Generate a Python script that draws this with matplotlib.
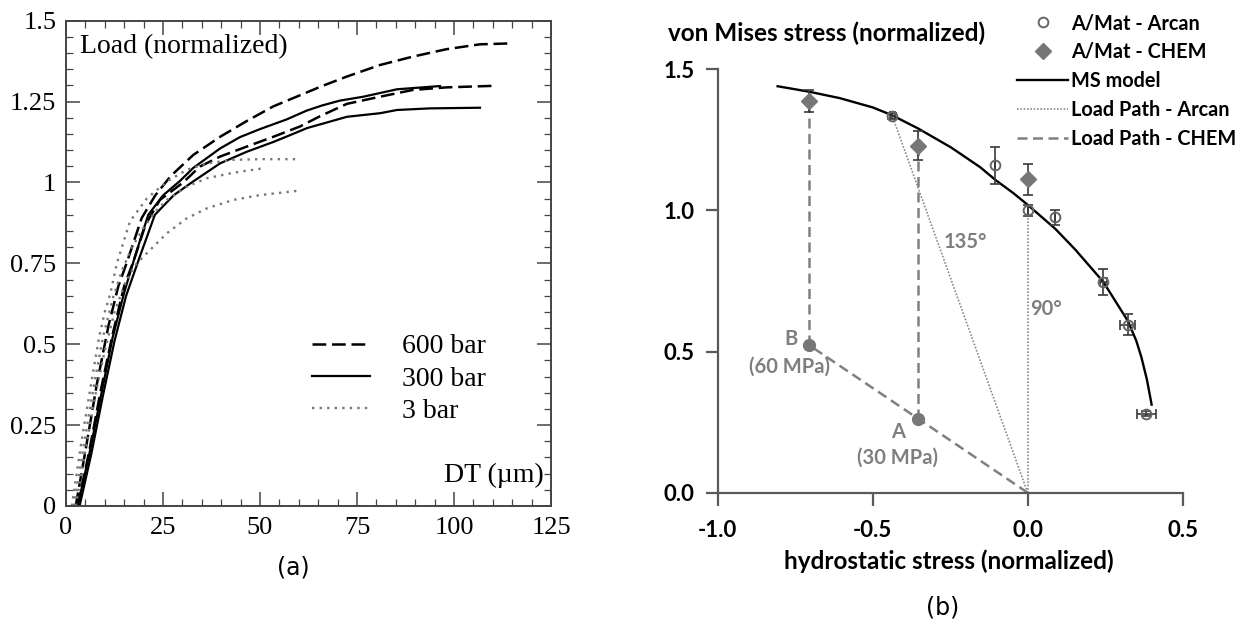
import matplotlib
matplotlib.use('Agg')
import matplotlib.pyplot as plt
from matplotlib.ticker import MultipleLocator, FuncFormatter

# ---------------- Panel (a) data ----------------
dt_600a = [2.5, 5, 8, 11, 13.5, 15.6, 19.5, 23, 27, 32.8, 39.7, 46.6, 53.4, 60, 66, 72.3, 80.9, 89.4, 98.1, 106.7, 115]
ld_600a = [0, 0.17, 0.38, 0.56, 0.68, 0.75, 0.89, 0.96, 1.02, 1.085, 1.141, 1.19, 1.235, 1.268, 1.298, 1.327, 1.363, 1.389, 1.412, 1.427, 1.43]
dt_600b = [3, 6, 9, 12, 15, 17.5, 20.5, 24.2, 30.2, 34.5, 39.7, 46.6, 53.4, 60.3, 65.5, 72.4, 80.9, 89.4, 98.2, 111]
ld_600b = [0, 0.17, 0.36, 0.53, 0.68, 0.76, 0.87, 0.946, 1.0, 1.049, 1.080, 1.111, 1.141, 1.173, 1.205, 1.243, 1.265, 1.286, 1.294, 1.299]
dt_300a = [3, 6, 9, 12, 15, 18, 21.2, 25, 29.4, 32.8, 39.7, 44.8, 50, 56.9, 62, 66, 70.6, 76.6, 85.3, 96.4]
ld_300a = [0, 0.16, 0.34, 0.52, 0.66, 0.78, 0.90, 0.96, 1.005, 1.045, 1.105, 1.14, 1.165, 1.195, 1.222, 1.238, 1.253, 1.265, 1.288, 1.298]
dt_300b = [3.5, 6.5, 9.5, 12.5, 15.5, 19, 22.9, 27.7, 32.4, 39.7, 46.6, 53.4, 58.5, 62.1, 68, 72.4, 80.9, 85.3, 93.8, 106.7]
ld_300b = [0, 0.16, 0.34, 0.51, 0.65, 0.77, 0.90, 0.96, 1.0, 1.059, 1.095, 1.125, 1.15, 1.168, 1.188, 1.203, 1.214, 1.224, 1.229, 1.231]
dt_3a = [1.5, 4, 6.5, 8.5, 10, 11.5, 13.1, 16.5, 20.8, 26, 31.1, 36.3, 43.1, 50, 59.9]
ld_3a = [0, 0.2, 0.38, 0.52, 0.6, 0.66, 0.75, 0.88, 0.95, 1.003, 1.039, 1.059, 1.070, 1.072, 1.072]
dt_3b = [2, 4.5, 7, 9.5, 12, 14.5, 17, 20, 23, 26, 31.1, 36.3, 43.1, 50.9]
ld_3b = [0, 0.18, 0.36, 0.52, 0.64, 0.73, 0.80, 0.86, 0.91, 0.946, 0.987, 1.013, 1.030, 1.044]
dt_3c = [2.5, 5, 7.5, 10, 12.5, 15, 17.5, 20.8, 26, 31.1, 36.3, 43.1, 50, 60.3]
ld_3c = [0, 0.17, 0.34, 0.48, 0.6, 0.68, 0.74, 0.781, 0.843, 0.889, 0.920, 0.946, 0.961, 0.975]
legend_a = ['600 bar', '300 bar', '3 bar']

# ---------------- Panel (b) data ----------------
arc_h = [-0.437, -0.104, 0.0, 0.089, 0.244, 0.323, 0.383]
arc_vm = [1.335, 1.16, 1.0, 0.975, 0.747, 0.595, 0.28]
arc_vm_err = [0.01, 0.065, 0.02, 0.025, 0.047, 0.037, 0.01]
arc_h_err = [0.008, 0.0, 0.0, 0.0, 0.012, 0.024, 0.03]

chem_h = [-0.707, -0.353, 0.0]
chem_vm = [1.388, 1.23, 1.11]
chem_vm_err = [0.04, 0.053, 0.056]

ms_h = [-0.807, -0.707, -0.607, -0.5, -0.437, -0.353, -0.247, -0.153, -0.104, -0.047, 0.0,
        0.089, 0.153, 0.244, 0.323, 0.35, 0.367, 0.385, 0.40]
ms_vm = [1.44, 1.421, 1.398, 1.365, 1.337, 1.29, 1.223, 1.153, 1.108, 1.062, 1.02,
         0.935, 0.862, 0.747, 0.609, 0.54, 0.48, 0.40, 0.312]

origin = (0.0, 0.0)
ptA = (-0.353, 0.262)
ptB = (-0.707, 0.524)
legend_b = ['A/Mat - Arcan', 'A/Mat - CHEM', 'MS model', 'Load Path - Arcan', 'Load Path - CHEM']

plt.rcParams['axes.unicode_minus'] = False

W, H = 1247, 621
fig = plt.figure(figsize=(W / 100, H / 100), dpi=100)


def rect(l, t, r, b):
    return [l / W, 1 - b / H, (r - l) / W, (b - t) / H]


# ================= Panel (a) =================
serif = 'Liberation Serif'
axa = fig.add_axes(rect(66, 20.7, 551, 506))
dash = (0, (5.5, 2.3))
dot = (0, (1, 2.2))
axa.plot(dt_600a, ld_600a, color='black', lw=1.8, ls=dash, label=legend_a[0])
axa.plot(dt_600b, ld_600b, color='black', lw=1.8, ls=dash)
axa.plot(dt_300a, ld_300a, color='black', lw=1.6, label=legend_a[1])
axa.plot(dt_300b, ld_300b, color='black', lw=1.6)
axa.plot(dt_3a, ld_3a, color='#777777', lw=1.7, ls=dot, label=legend_a[2])
axa.plot(dt_3b, ld_3b, color='#777777', lw=1.7, ls=dot)
axa.plot(dt_3c, ld_3c, color='#777777', lw=1.7, ls=dot)

axa.set_xlim(0, 125)
axa.set_ylim(0, 1.5)
axa.xaxis.set_major_locator(MultipleLocator(25))
axa.xaxis.set_minor_locator(MultipleLocator(5))
axa.yaxis.set_major_locator(MultipleLocator(0.25))
axa.yaxis.set_minor_locator(MultipleLocator(0.05))
axa.yaxis.set_major_formatter(FuncFormatter(lambda v, p: '%g' % v))
axa.tick_params(which='both', direction='in', top=True, right=True, color='#444444')
axa.tick_params(which='major', length=10, width=1.1, labelsize=19, labelfontfamily=serif)
axa.tick_params(which='minor', length=5, width=0.9)
axa.tick_params(axis='x', pad=8)
axa.tick_params(axis='y', pad=7)
for s in axa.spines.values():
    s.set_color('#444444')
    s.set_linewidth(1.4)

axa.text(0.029, 0.946, 'Load (normalized)', transform=axa.transAxes, fontsize=20,
         family=serif, ha='left', va='center')
axa.text(0.985, 0.064, 'DT (\u00b5m)', transform=axa.transAxes, fontsize=20,
         family=serif, ha='right', va='center')
axa.legend(loc='upper left', bbox_to_anchor=(312 / W, 1 - 334 / H), bbox_transform=fig.transFigure,
           frameon=False, prop={'family': serif, 'size': 20}, handlelength=2.1,
           handletextpad=1.15, labelspacing=0.24, borderpad=0, borderaxespad=0)

fig.text(293 / W, 1 - 568 / H, '(a)', fontsize=17, family='DejaVu Sans', ha='center', va='center')

# ================= Panel (b) =================
sans = 'Lato'
gray_txt = '#7f7f7f'
axb = fig.add_axes(rect(717.8, 69.3, 1182.6, 492.7))
axb.set_xlim(-1.0, 0.5)
axb.set_ylim(0, 1.5)

# load paths
axb.plot([origin[0], arc_h[0]], [origin[1], arc_vm[0]], color='#8a8a8a', lw=1.2,
         ls=(0, (1, 1)), label=legend_b[3])
axb.plot([origin[0], arc_h[2]], [origin[1], arc_vm[2]], color='#8a8a8a', lw=1.2, ls=(0, (1, 1)))
cdash = (0, (4, 2.2))
axb.plot([origin[0], ptA[0], ptB[0]], [origin[1], ptA[1], ptB[1]], color='#808080', lw=1.8,
         ls=cdash, label=legend_b[4])
axb.plot([ptA[0], chem_h[1]], [ptA[1], chem_vm[1]], color='#808080', lw=1.8, ls=cdash)
axb.plot([ptB[0], chem_h[0]], [ptB[1], chem_vm[0]], color='#808080', lw=1.8, ls=cdash)

# MS model
axb.plot(ms_h, ms_vm, color='black', lw=1.7, label=legend_b[2])

# error bars
axb.errorbar(arc_h, arc_vm, yerr=arc_vm_err, xerr=arc_h_err, fmt='none', ecolor='#3a3a3a',
             elinewidth=1.2, capsize=3.5, capthick=1.2)
axb.errorbar(chem_h, chem_vm, yerr=chem_vm_err, fmt='none', ecolor='#3a3a3a',
             elinewidth=1.2, capsize=3.5, capthick=1.2)
axb.plot(arc_h, arc_vm, ls='none', marker='o', ms=7, mfc='none', mec='#666666', mew=1.4,
         label=legend_b[0])
axb.plot(chem_h, chem_vm, ls='none', marker='D', ms=8, mfc='#777777', mec='#777777',
         label=legend_b[1])

# A and B points
axb.plot([ptA[0], ptB[0]], [ptA[1], ptB[1]], ls='none', marker='o', ms=8.5, color='#777777')

lab = dict(fontsize=14.5, family=sans, fontweight='bold', color=gray_txt, ha='center', va='center')
axb.annotate('B', ptB, xytext=(-13, 4.5), textcoords='offset points', **lab)
axb.annotate('(60 MPa)', ptB, xytext=(-14, -15.5), textcoords='offset points', **lab)
axb.annotate('A', ptA, xytext=(-14.5, -9.5), textcoords='offset points', **lab)
axb.annotate('(30 MPa)', ptA, xytext=(-15, -28), textcoords='offset points', **lab)
axb.text(-0.20, 0.888, '135\u00b0', **lab)
axb.text(0.06, 0.652, '90\u00b0', **lab)

for side in ['top', 'right']:
    axb.spines[side].set_visible(False)
for side in ['left', 'bottom']:
    axb.spines[side].set_color('#5a5a5a')
    axb.spines[side].set_linewidth(1.6)
axb.xaxis.set_major_locator(MultipleLocator(0.5))
axb.yaxis.set_major_locator(MultipleLocator(0.5))
fmt = FuncFormatter(lambda v, p: '%.1f' % v)
axb.xaxis.set_major_formatter(fmt)
axb.yaxis.set_major_formatter(fmt)
axb.tick_params(direction='out', length=9, width=1.6, color='#5a5a5a', labelsize=16,
                labelfontfamily=sans)
axb.tick_params(axis='x', pad=11)
axb.tick_params(axis='y', pad=8)
for t in axb.get_xticklabels() + axb.get_yticklabels():
    t.set_fontweight('bold')

fig.text(668 / W, 1 - 33 / H, 'von Mises stress (normalized)', fontsize=17.5, family=sans,
         fontweight='bold', ha='left', va='center')
fig.text(949 / W, 1 - 561.5 / H, 'hydrostatic stress (normalized)', fontsize=17.5, family=sans,
         fontweight='bold', ha='center', va='center')
fig.text(943 / W, 1 - 608 / H, '(b)', fontsize=17, family='DejaVu Sans', ha='center', va='center')

h, l = axb.get_legend_handles_labels()
hmap = dict(zip(l, h))
axb.legend([hmap[k] for k in legend_b], legend_b, loc='upper left',
           bbox_to_anchor=(1016.7 / W, 1 - 13 / H), bbox_transform=fig.transFigure,
           frameon=False, prop={'family': sans, 'weight': 'bold', 'size': 14.3},
           handlelength=2.6, handletextpad=0.12, labelspacing=0.45, borderpad=0,
           borderaxespad=0)

fig.savefig('out.png', dpi=100)
